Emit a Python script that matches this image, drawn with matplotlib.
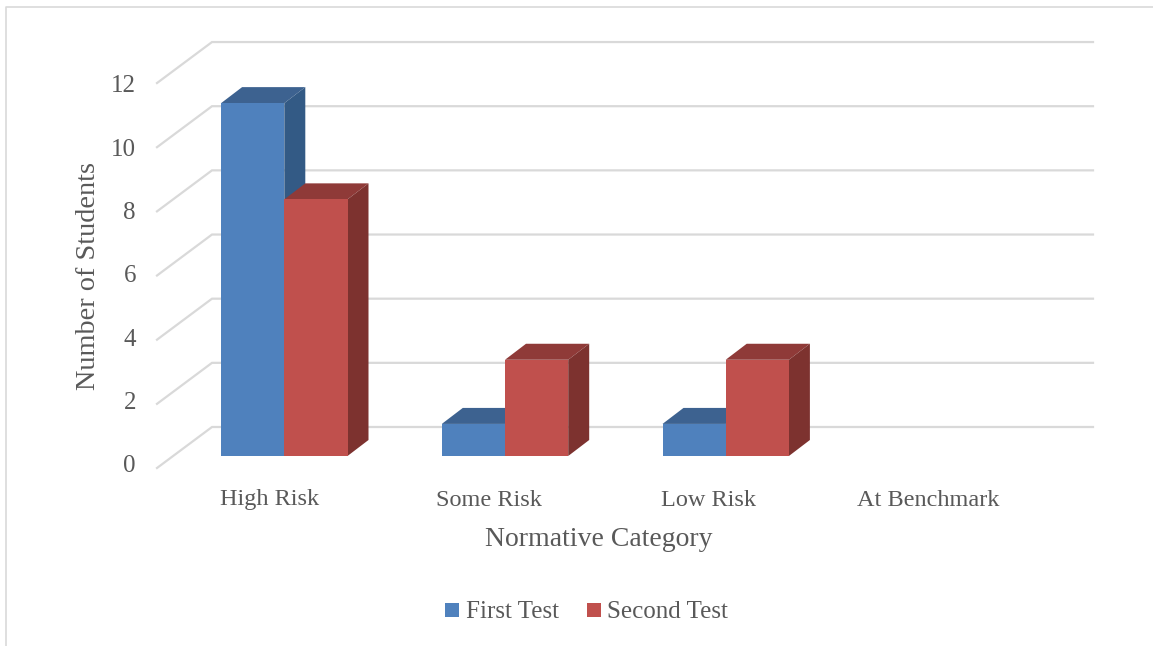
import matplotlib
matplotlib.use('Agg')
import matplotlib.pyplot as plt
from matplotlib.lines import Line2D

categories = ['High Risk', 'Some Risk', 'Low Risk', 'At Benchmark']
first_test = [11, 1, 1, 0]
second_test = [8, 3, 3, 0]
y_ticks = [0, 2, 4, 6, 8, 10, 12]

BLUE = ('#4F81BD', '#3D6290', '#335A85')
RED = ('#C0504D', '#8F3A38', '#7D322F')
GRID = '#D9D9D9'
TEXT = '#595959'
W, H = 1153, 646

# one category is 220.7 px wide, one student is 32.08 px tall
PX_X = 220.7
PX_Y = 32.08
X0_PX = 284.3
Y0_PX = 456.0
BAR_W = 63.2 / PX_X
DEPTH_X = 21.0 / PX_X
DEPTH_Y = 16.0 / PX_Y
# tick labels sit slightly closer together than the gridlines
LABEL_STEP = 31.7 / PX_Y


def px_x(px):
    return (px - X0_PX) / PX_X


def px_y(px):
    return (Y0_PX - px) / PX_Y


# a bar with its top and side faces, leaving out empty categories
def draw_bar(ax, left, value, faces):
    if value <= 0:
        return
    right = left + BAR_W
    ax.fill([left, right, right + DEPTH_X, left + DEPTH_X],
            [value, value, value + DEPTH_Y, value + DEPTH_Y],
            color=faces[1], lw=0, zorder=3)
    ax.fill([right, right + DEPTH_X, right + DEPTH_X, right],
            [0, DEPTH_Y, value + DEPTH_Y, value],
            color=faces[2], lw=0, zorder=3)
    ax.bar(left, value, width=BAR_W, align='edge', color=faces[0], lw=0, zorder=3)


plt.rcParams['font.family'] = ['Liberation Serif', 'DejaVu Serif']

fig = plt.figure(figsize=(W / 100, H / 100), dpi=100)
ax = fig.add_axes([0, 0, 1, 1])
ax.set_xlim(px_x(0), px_x(W))
ax.set_ylim(px_y(H), px_y(0))
ax.axis('off')

# outer chart border, top and left only
ax.plot([px_x(5.5), px_x(5.5), px_x(W)], [px_y(H), px_y(6.5), px_y(6.5)],
        color=GRID, lw=1.2, zorder=1)

# floor/wall gridlines running back and across
for v in y_ticks:
    wall = v + px_y(427)
    front = v + px_y(468)
    ax.plot([px_x(157), px_x(212), px_x(1093)], [front, wall, wall],
            color=GRID, lw=1.6, solid_joinstyle='miter', zorder=2)
    ax.text(px_x(136), px_y(466.5) + v * LABEL_STEP, str(v), color=TEXT, fontsize=18,
            ha='right', va='center')

for i, name in enumerate(categories):
    draw_bar(ax, i - BAR_W, first_test[i], BLUE)
    draw_bar(ax, i, second_test[i], RED)
    ax.text(i - 15.0 / PX_X - 0.005 * i, px_y(500), name, color=TEXT, fontsize=17.5,
            ha='center', va='center')

ax.text(px_x(599), px_y(539), 'Normative Category', color=TEXT, fontsize=20,
        ha='center', va='center')
ax.text(px_x(88), px_y(276), 'Number of Students', color=TEXT, fontsize=20.3,
        rotation=90, ha='center', va='center')

handles = [Line2D([], [], ls='none', marker='s', ms=9.4, color=BLUE[0], mew=0),
           Line2D([], [], ls='none', marker='s', ms=9.4, color=RED[0], mew=0)]
fig.legend(handles, ['First Test', 'Second Test'], loc='center',
           bbox_to_anchor=(585 / W, 1 - 612 / H), ncol=2, frameon=False,
           fontsize=18, labelcolor=TEXT, handlelength=0.8, handletextpad=0.15,
           columnspacing=1.0)

fig.savefig('out.png', dpi=100)
